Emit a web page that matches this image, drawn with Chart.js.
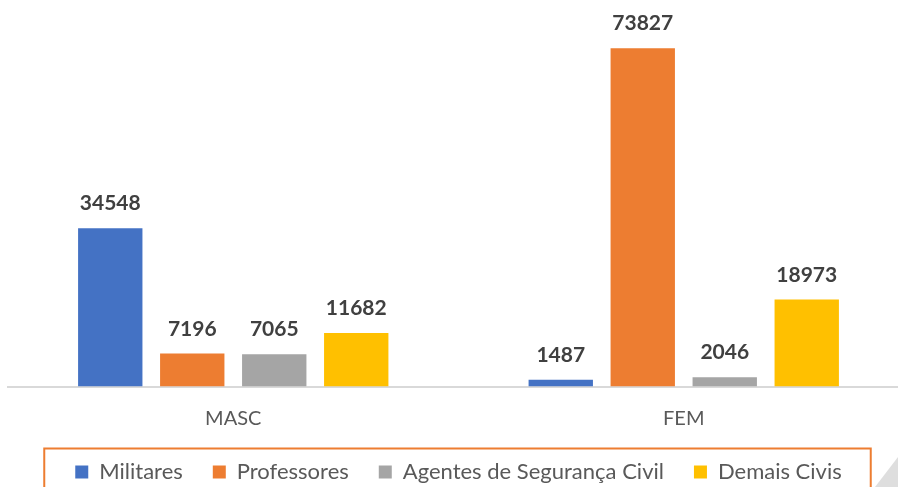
<!DOCTYPE html>
<html>
<head>
<meta charset="utf-8">
<script src="https://cdn.jsdelivr.net/npm/chart.js@4/dist/chart.umd.min.js"></script>
<style>
    html, body { margin: 0; padding: 0; background: #fff; }
    #wrap { position: relative; width: 898px; height: 487px; overflow: hidden; }
    #corner {
        position: absolute; left: 875px; top: 457px; width: 23px; height: 30px;
        background: #dedede; clip-path: polygon(100% 0, 100% 100%, 0 100%);
    }
</style>
</head>
<body>
<div id="wrap">
    <canvas id="chart" width="920" height="493"></canvas>
    <div id="corner"></div>
</div>
<script>
const categories = ['MASC', 'FEM'];
const seriesNames = ['Militares', 'Professores', 'Agentes de Segurança Civil', 'Demais Civis'];
const militares = [34548, 1487];
const professores = [7196, 73827];
const agentes = [7065, 2046];
const demaisCivis = [11682, 18973];
const seriesColors = ['#4472C4', '#ED7D31', '#A5A5A5', '#FFC000'];

const FONT = 'Lato, "Open Sans", sans-serif';

// rótulos de valor acima das barras
const valueLabels = {
    id: 'valueLabels',
    afterDatasetsDraw(chart) {
        const ctx = chart.ctx;
        ctx.save();
        ctx.font = `bold 21px ${FONT}`;
        ctx.fillStyle = '#404040';
        ctx.textAlign = 'center';
        ctx.textBaseline = 'alphabetic';
        chart.data.datasets.forEach((ds, i) => {
            chart.getDatasetMeta(i).data.forEach((bar, j) => {
                ctx.fillText(String(ds.data[j]), bar.x, bar.y - 18);
            });
        });
        ctx.restore();
    }
};

// moldura laranja da legenda
const legendFrame = {
    id: 'legendFrame',
    afterDraw(chart) {
        const boxes = chart.legend.legendHitBoxes;
        if (!boxes || !boxes.length) return;
        const first = boxes[0];
        const last = boxes[boxes.length - 1];
        const ctx = chart.ctx;
        ctx.save();
        ctx.strokeStyle = '#ED7D31';
        ctx.lineWidth = 2;
        const left = first.left - 31;
        const right = last.left + last.width + 29;
        const top = first.top - 12.5;
        ctx.beginPath();
        ctx.moveTo(left, chart.height + 5);
        ctx.lineTo(left, top);
        ctx.lineTo(right, top);
        ctx.lineTo(right, chart.height + 5);
        ctx.stroke();
        ctx.restore();
    }
};

const datasets = [militares, professores, agentes, demaisCivis].map((values, i) => ({
    label: seriesNames[i],
    data: values,
    backgroundColor: seriesColors[i],
    barPercentage: 0.785,
    categoryPercentage: 0.728
}));

new Chart(document.getElementById('chart'), {
    type: 'bar',
    data: { labels: categories, datasets: datasets },
    options: {
        responsive: false,
        animation: false,
        layout: { padding: { left: 8, right: 11, top: 20, bottom: 0 } },
        scales: {
            x: {
                grid: { display: false, drawTicks: false },
                border: { color: '#d9d9d9', width: 2 },
                ticks: { color: '#595959', font: { family: FONT, size: 20 }, padding: 20 },
                afterFit: (scale) => { scale.height -= 19.5; }
            },
            y: { display: false, min: 0, max: 80000 }
        },
        plugins: {
            legend: {
                position: 'bottom',
                labels: {
                    boxWidth: 13,
                    boxHeight: 13,
                    color: '#595959',
                    font: { family: FONT, size: 22 },
                    padding: 30
                }
            },
            tooltip: { enabled: false }
        }
    },
    plugins: [valueLabels, legendFrame]
});
</script>
</body>
</html>
